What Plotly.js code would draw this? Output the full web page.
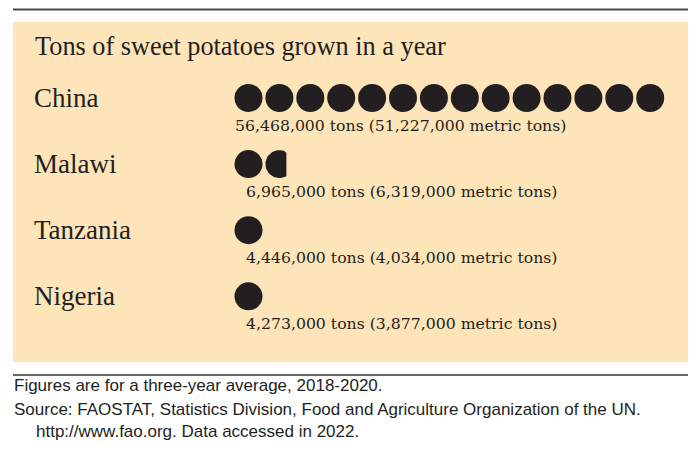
<!DOCTYPE html>
<html><head><meta charset="utf-8">
<script src="https://cdn.plot.ly/plotly-3.0.1.min.js"></script>
<style>html,body{margin:0;padding:0;background:#fff}</style>
</head><body><div id="chart" style="width:700px;height:455px"></div>
<script>
// ---- data ----
const countries = ["China", "Malawi", "Tanzania", "Nigeria"];
const tons = [56468000, 6965000, 4446000, 4273000];
const metricTons = [51227000, 6319000, 4034000, 3877000];
const tonsPerIcon = 4000000;
const titleText = "Tons of sweet potatoes grown in a year";
const footnotes = [
  "Figures are for a three-year average, 2018-2020.",
  "Source: FAOSTAT, Statistics Division, Food and Agriculture Organization of the UN.",
  "http://www.fao.org. Data accessed in 2022."
];

// ---- layout constants (pixels) ----
const W = 700, H = 455;
const X0 = 233.05, XSTEP = 30.9;   // pixel of icon-axis 0, pixels per icon
const Y0 = 98, YSTEP = 66.1;       // pixel of row 0, pixels per row
const ICON_D = 28;
const INK = "#231f20";
const PANEL = "#fee4b9";
const fmt = v => v.toLocaleString("en-US");

const fullX = [], fullY = [];
const traces = [];
tons.forEach((t, r) => {
  const n = t / tonsPerIcon;
  const full = Math.floor(n);
  const frac = Math.round((n - full) * 4) / 4;
  for (let i = 0; i < full; i++) { fullX.push(i + 0.5); fullY.push(r); }
  if (frac > 0) {
    const rx = (ICON_D / 2) / XSTEP, ry = (ICON_D / 2) / YSTEP;
    const cx = full + 0.5, clip = cx - rx + frac * 2 * rx;
    const px = [], py = [];
    for (let k = 0; k <= 72; k++) {
      const a = k / 72 * 2 * Math.PI;
      px.push(Math.min(cx + rx * Math.cos(a), clip));
      py.push(r + ry * Math.sin(a));
    }
    traces.push({x: px, y: py, mode: "lines", fill: "toself", fillcolor: INK,
      line: {width: 0, color: INK}, hoverinfo: "skip", showlegend: false});
  }
});
traces.unshift({x: fullX, y: fullY, mode: "markers", type: "scatter",
  marker: {size: ICON_D, color: INK, line: {width: 0}}, hoverinfo: "skip", showlegend: false});

const labelShift = [0, 11, 11, 11];
const annotations = [];
annotations.push({text: titleText, xref: "paper", yref: "paper", x: 33 / W, y: 1 - 47 / H,
  xanchor: "left", yanchor: "middle", showarrow: false,
  font: {family: "Liberation Serif", size: 26.3, color: INK}});
countries.forEach((c, r) => {
  annotations.push({text: c, xref: "paper", yref: "y", x: 32 / W, y: r,
    xanchor: "left", yanchor: "middle", showarrow: false,
    font: {family: "Liberation Serif", size: 27, color: INK}});
  annotations.push({text: fmt(tons[r]) + " tons (" + fmt(metricTons[r]) + " metric tons)",
    xref: "x", yref: "y", x: 0, y: r, xanchor: "left", yanchor: "middle",
    xshift: labelShift[r], yshift: -27, showarrow: false,
    font: {family: "DejaVu Serif", size: 15.7, color: INK}});
});
const footY = [385, 409, 431], footX = [12, 12, 34];
footnotes.forEach((f, i) => {
  annotations.push({text: f, xref: "paper", yref: "paper", x: footX[i] / W, y: 1 - footY[i] / H,
    xanchor: "left", yanchor: "middle", showarrow: false,
    font: {family: "Liberation Sans", size: 17, color: INK}});
});

const layout = {
  width: W, height: H, margin: {l: 0, r: 0, t: 0, b: 0, pad: 0},
  paper_bgcolor: "#ffffff", plot_bgcolor: "rgba(0,0,0,0)",
  xaxis: {range: [-X0 / XSTEP, (W - X0) / XSTEP], visible: false, fixedrange: true},
  yaxis: {range: [(H - Y0) / YSTEP, -Y0 / YSTEP], visible: false, fixedrange: true},
  shapes: [
    {type: "rect", xref: "paper", yref: "paper", x0: 13 / W, x1: 688 / W, y0: 1 - 362 / H, y1: 1 - 22 / H,
      fillcolor: PANEL, line: {width: 0}, layer: "below"},
    {type: "line", xref: "paper", yref: "paper", x0: 13 / W, x1: 688 / W, y0: 1 - 9.5 / H, y1: 1 - 9.5 / H,
      line: {color: "#4a4a4a", width: 2}},
    {type: "line", xref: "paper", yref: "paper", x0: 13 / W, x1: 688 / W, y0: 1 - 375 / H, y1: 1 - 375 / H,
      line: {color: "#333333", width: 1.5}}
  ],
  annotations: annotations,
  showlegend: false
};
Plotly.newPlot("chart", traces, layout, {staticPlot: true, displayModeBar: false});
</script></body></html>
